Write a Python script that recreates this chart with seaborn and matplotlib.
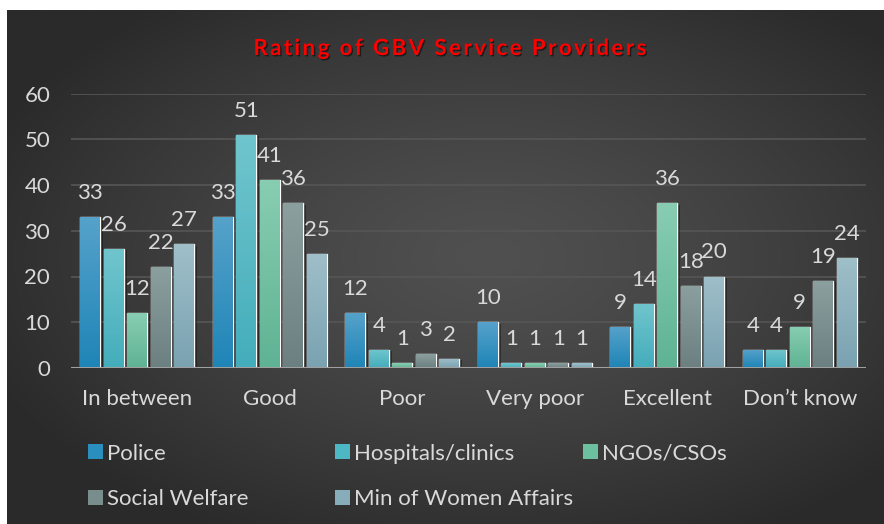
import numpy as np
import pandas as pd
import matplotlib
matplotlib.use("Agg")
import matplotlib.pyplot as plt
import seaborn as sns
from matplotlib.colors import LinearSegmentedColormap
from matplotlib.patches import Patch
import matplotlib.patheffects as pe

# ---------------- data ----------------
categories = ["In between", "Good", "Poor", "Very poor", "Excellent", "Don\u2019t know"]
series = ["Police", "Hospitals/clinics", "NGOs/CSOs", "Social Welfare", "Min of Women Affairs"]
police = [33, 33, 12, 10, 9, 4]
hospitals = [26, 51, 4, 1, 14, 4]
ngos = [12, 41, 1, 1, 36, 9]
social_welfare = [22, 36, 3, 1, 18, 19]
women_affairs = [27, 25, 2, 1, 20, 24]
yticks = [0, 10, 20, 30, 40, 50, 60]
title = "Rating of GBV Service Providers"

values = [police, hospitals, ngos, social_welfare, women_affairs]
df = pd.DataFrame({
    "Rating": [c for s in series for c in categories],
    "Provider": [s for s in series for c in categories],
    "Count": [v for vals in values for v in vals],
})

# ---------------- style ----------------
base_cols = ["#2a8fbf", "#4db8c4", "#6cbf9f", "#7a8d8d", "#88adba"]
top_cols = ["#55a2ca", "#70c5cd", "#88cdb2", "#8c9f9f", "#9fbfc9"]
bot_cols = ["#1f85b7", "#44adbb", "#5fb394", "#6c8081", "#7aa2b1"]
TXT = "#d9d9d9"
FS = 16

sns.set_theme(style="dark")
plt.rcParams["font.family"] = ["Lato", "DejaVu Sans"]

W, H = 884, 524
fig = plt.figure(figsize=(W / 100, H / 100), dpi=100)
fig.patch.set_facecolor("white")

# background radial gradient panel
bg = fig.add_axes([7 / W, 0, 1 - 7 / W, 1 - 10 / H])
yy, xx = np.mgrid[0:1:300j, 0:1:500j]
r = np.sqrt(((xx - 0.55) / 0.62) ** 2 + ((yy - 0.52) / 0.62) ** 2)
g = 80 - 38 * np.clip(r, 0, 1) ** 1.3
img = np.dstack([g, g, g]) / 255.0
bg.imshow(img, aspect="auto", extent=[0, 1, 0, 1], origin="lower")
bg.set_axis_off()

ax = fig.add_axes([71 / W, 1 - 368 / H, 795 / W, (368 - 93.5) / H])
ax.set_facecolor("none")
sns.barplot(data=df, x="Rating", y="Count", hue="Provider", palette=base_cols,
            order=categories, hue_order=series, width=0.885, gap=0.15,
            saturation=1, legend=False, ax=ax, zorder=3)

for ci, cont in enumerate(ax.containers):
    cmap = LinearSegmentedColormap.from_list("g%d" % ci, [bot_cols[ci], top_cols[ci]])
    for bar, v in zip(cont, values[ci]):
        x, w, h = bar.get_x(), bar.get_width(), bar.get_height()
        bar.set_path_effects([pe.SimplePatchShadow(offset=(2, -1), shadow_rgbFace="black", alpha=0.35), pe.Normal()])
        grad = np.linspace(0, 1, 64).reshape(-1, 1)
        im = ax.imshow(grad, extent=[x, x + w, 0, h], origin="lower", aspect="auto",
                       cmap=cmap, zorder=3.5)
        im.set_clip_path(bar)
        ax.annotate(str(v), (x + w / 2, h), xytext=(0, 13), textcoords="offset points",
                    ha="center", va="baseline", color=TXT, fontsize=FS, zorder=5)

ax.set_xlim(-0.5, len(categories) - 0.5)
ax.set_ylim(0, 60)
ax.set_yticks(yticks)
ax.set_xlabel("")
ax.set_ylabel("")
for s in ax.spines.values():
    s.set_visible(False)
ax.grid(False)
for t in yticks[1:]:
    ax.axhline(t, color="#565656", lw=1.2, zorder=1)
ax.axhline(0, color="#a0a0a0", lw=2.2, zorder=4)
ax.tick_params(axis="both", length=0, labelcolor=TXT, labelsize=FS)
ax.tick_params(axis="y", pad=15)
ax.tick_params(axis="x", pad=15)

# ---------------- legend (three columns, row-major order) ----------------
handles = [Patch(facecolor=c, edgecolor="none") for c in base_cols]
col_x = [88, 335, 583]
columns = [[0, 3], [1, 4], [2]]
for cx, idxs in zip(col_x, columns):
    leg = fig.legend([handles[i] for i in idxs], [series[i] for i in idxs],
                     loc="upper left", bbox_to_anchor=(cx / W, 1 - 443.5 / H),
                     frameon=False, fontsize=FS, labelcolor=TXT, borderpad=0,
                     borderaxespad=0, handlelength=0.66, handleheight=0.66,
                     handletextpad=0.2, labelspacing=1.15)

# ---------------- title with letter spacing ----------------
tkw = dict(fontsize=16, fontweight="bold", color="#ff0000", family=["Lato", "DejaVu Sans"])
rend = fig.canvas.get_renderer()


def text_w(s):
    t = fig.text(0, 0, s, **tkw)
    e = t.get_window_extent(rend).width
    t.remove()
    return e


ref = text_w("|")
natural = text_w(title + "|") - ref
target = 393.0
spacing = (target - natural) / (len(title) - 1)
x0 = 450 - target / 2
for i, ch in enumerate(title):
    if ch == " ":
        continue
    off = (text_w(title[:i] + "|") - ref) if i > 0 else 0
    fig.text((x0 + off + spacing * i) / W, 1 - 55 / H, ch, ha="left", va="baseline",
             path_effects=[pe.SimplePatchShadow(offset=(1, -1), shadow_rgbFace="black", alpha=0.5), pe.Normal()],
             **tkw)

fig.savefig("out.png", dpi=100, facecolor=fig.get_facecolor())
